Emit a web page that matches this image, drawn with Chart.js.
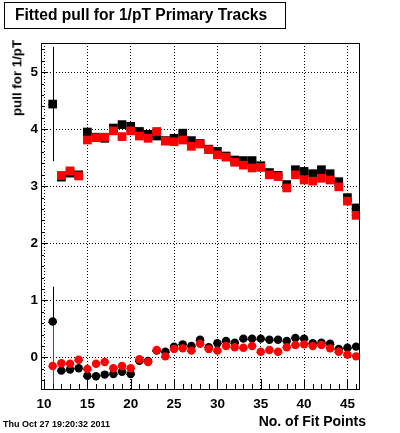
<!DOCTYPE html>
<html><head><meta charset="utf-8">
<script src="https://cdn.jsdelivr.net/npm/chart.js@4.4.0/dist/chart.umd.min.js"></script>
<style>
html,body{margin:0;padding:0;background:#fff;}
#wrap{position:relative;width:400px;height:433px;overflow:hidden;font-family:"Liberation Sans",Arial,sans-serif;background:#fff;}
#wrap canvas{position:absolute;left:0;top:0;}
.t{position:absolute;white-space:nowrap;color:#000;font-weight:bold;}
</style></head><body>
<div id="wrap">
<canvas id="c" width="400" height="433"></canvas>
<div style="position:absolute;left:4px;top:2px;width:282px;height:27px;border:1px solid #000;box-sizing:border-box;"></div>
<div class="t" style="left:15px;top:7px;font-size:15.6px;line-height:15.6px;">Fitted pull for 1/pT Primary Tracks</div>
<div class="t" style="left:16.5px;top:78px;font-size:13.3px;line-height:13.3px;transform:translate(-50%,-50%) rotate(-90deg);">pull for 1/pT</div>
<div class="t" style="right:34px;top:414px;font-size:14px;line-height:14px;">No. of Fit Points</div>
<div class="t" style="left:3px;top:420px;font-size:9px;line-height:9px;">Thu Oct 27 19:20:32 2011</div>
</div>
<script>
// ---- data ----
const nFit = [11,12,13,14,15,16,17,18,19,20,21,22,23,24,25,26,27,28,29,30,31,32,33,34,35,36,37,38,39,40,41,42,43,44,45,46];
const blackSquares = [4.44,3.16,3.23,3.20,3.95,3.86,3.84,4.02,4.08,4.05,3.96,3.91,3.88,3.80,3.84,3.93,3.80,3.75,3.65,3.61,3.53,3.46,3.45,3.45,3.36,3.24,3.19,3.03,3.29,3.26,3.22,3.29,3.22,3.08,2.80,2.62];
const redSquares   = [null,3.19,3.27,3.18,3.81,3.85,3.86,3.97,3.87,3.97,3.88,3.84,3.96,3.79,3.78,3.81,3.70,3.74,3.64,3.55,3.51,3.42,3.37,3.32,3.33,3.20,3.17,2.97,3.20,3.11,3.09,3.14,3.11,2.99,2.74,2.49];
const blackCircles = [0.63,-0.23,-0.21,-0.19,-0.32,-0.33,-0.30,-0.29,-0.25,-0.29,-0.06,-0.06,0.12,0.10,0.19,0.23,0.20,0.31,0.18,0.25,0.29,0.26,0.33,0.33,0.33,0.31,0.31,0.29,0.34,0.33,0.25,0.26,0.24,0.15,0.17,0.19];
const redCircles   = [-0.15,-0.10,-0.11,-0.04,-0.20,-0.11,-0.08,-0.19,-0.15,-0.19,-0.03,-0.08,0.13,0.02,0.15,0.16,0.12,0.24,0.15,0.12,0.20,0.18,0.17,0.20,0.10,0.13,0.10,0.18,0.22,0.23,0.20,0.22,0.16,0.10,0.05,0.02];
const blackSquaresErr = [1.00,0,0,0,0,0,0,0,0,0,0,0,0,0,0,0,0,0,0,0,0,0,0,0,0,0,0,0,0,0,0,0,0,0,0,0];
const blackCirclesErr = [0.61,0,0,0,0,0,0,0,0,0,0,0,0,0,0,0,0,0,0,0,0,0,0,0,0,0,0,0,0,0,0,0,0,0,0,0];
const redCirclesErr   = [0.80,0,0,0,0,0,0,0,0,0,0,0,0,0,0,0,0,0,0,0,0,0,0,0,0,0,0,0,0,0,0,0,0,0,0,0];
const redSquaresErr   = [0,0,0,0,0,0,0,0,0,0,0,0,0,0,0,0,0,0,0,0,0,0,0,0,0,0,0,0,0,0,0,0,0,0,0,0];
const xMajorTicks = [10,15,20,25,30,35,40,45];
const yMajorTicks = [0,1,2,3,4,5];
const xMinorStep = 1, yMinorStep = 0.2;
const xRange = [9.65, 46.45], yRange = [-0.57, 5.51];

const FONT = '"Liberation Sans", Arial, sans-serif';
function pts(vals){ return nFit.map((n,i)=>({x:n,y:vals[i]})).filter(p=>p.y!==null); }

const series = [
  {vals:blackSquares, err:blackSquaresErr, color:'#000000'},
  {vals:redSquares,   err:redSquaresErr,   color:'#ff0000'},
  {vals:blackCircles, err:blackCirclesErr, color:'#000000'},
  {vals:redCircles,   err:redCirclesErr,   color:'#ff0000'}
];

const rootDecor = {
  id:'rootDecor',
  beforeDatasetsDraw(chart){
    const {ctx, chartArea:a, scales:{x,y}} = chart;
    ctx.save();
    ctx.beginPath(); ctx.rect(a.left, a.top, a.width, a.height); ctx.clip();
    ctx.lineWidth = 1;
    series.forEach(s=>{
      ctx.strokeStyle = s.color;
      s.vals.forEach((v,i)=>{
        if(v===null) return;
        const px = Math.round(x.getPixelForValue(nFit[i]))+0.5;
        const py = Math.round(y.getPixelForValue(v))+0.5;
        ctx.beginPath();
        ctx.moveTo(x.getPixelForValue(nFit[i]-0.5), py);
        ctx.lineTo(x.getPixelForValue(nFit[i]+0.5), py);
        ctx.stroke();
        const e = s.err[i];
        if(e>0){
          ctx.beginPath();
          ctx.moveTo(px, y.getPixelForValue(v+e));
          ctx.lineTo(px, y.getPixelForValue(v-e));
          ctx.stroke();
        }
      });
    });
    ctx.restore();
  },
  afterDraw(chart){
    const {ctx, chartArea:a, scales:{x,y}} = chart;
    ctx.save();
    ctx.strokeStyle = '#000'; ctx.lineWidth = 1;
    for(let v=Math.ceil(xRange[0]); v<=xRange[1]; v+=xMinorStep){
      const major = xMajorTicks.includes(v);
      const px = Math.round(x.getPixelForValue(v))+0.5;
      ctx.beginPath(); ctx.moveTo(px, a.bottom); ctx.lineTo(px, a.bottom-(major?11:6)); ctx.stroke();
    }
    for(let k=Math.ceil(yRange[0]/yMinorStep); k*yMinorStep<=yRange[1]; k++){
      const v = k*yMinorStep;
      const major = Math.abs(v-Math.round(v))<1e-6;
      const py = Math.round(y.getPixelForValue(v))+0.5;
      ctx.beginPath(); ctx.moveTo(a.left, py); ctx.lineTo(a.left+(major?6:3), py); ctx.stroke();
    }
    ctx.strokeRect(a.left+0.5, a.top+0.5, a.width-1, a.height-1);
    ctx.restore();
  }
};

new Chart(document.getElementById('c'), {
  type:'scatter',
  data:{datasets:[
    {label:'black squares', data:pts(blackSquares), pointStyle:'rect', pointRadius:6.15, backgroundColor:'#000', borderWidth:0, order:2},
    {label:'red squares', data:pts(redSquares), pointStyle:'rect', pointRadius:6.15, backgroundColor:'#ff0000', borderWidth:0, order:1},
    {label:'black circles', data:pts(blackCircles), pointStyle:'circle', pointRadius:4.2, backgroundColor:'#000', borderWidth:0, order:2},
    {label:'red circles', data:pts(redCircles), pointStyle:'circle', pointRadius:4.2, backgroundColor:'#ff0000', borderWidth:0, order:1}
  ]},
  options:{
    responsive:false, animation:false, events:[],
    layout:{padding:{left:0, right:40, top:43, bottom:0}},
    plugins:{legend:{display:false}, tooltip:{enabled:false}, title:{display:false}},
    scales:{
      x:{type:'linear', min:xRange[0], max:xRange[1],
        afterBuildTicks:s=>{ s.ticks = xMajorTicks.map(v=>({value:v})); },
        afterFit:s=>{ s.height = 43; },
        ticks:{color:'#000', font:{family:FONT, weight:'bold', size:13.5}, padding:6, maxRotation:0, autoSkip:false, callback:v=>String(v)},
        grid:{color:'#000', lineWidth:1, drawTicks:false},
        border:{display:false, dash:[1,2]}
      },
      y:{type:'linear', min:yRange[0], max:yRange[1],
        afterBuildTicks:s=>{ s.ticks = yMajorTicks.map(v=>({value:v})); },
        afterFit:s=>{ s.width = 41; },
        ticks:{color:'#000', font:{family:FONT, weight:'bold', size:13.5}, padding:3, callback:v=>String(v)},
        grid:{color:'#000', lineWidth:1, drawTicks:false},
        border:{display:false, dash:[1,2]}
      }
    }
  },
  plugins:[rootDecor]
});
</script>
</body></html>
